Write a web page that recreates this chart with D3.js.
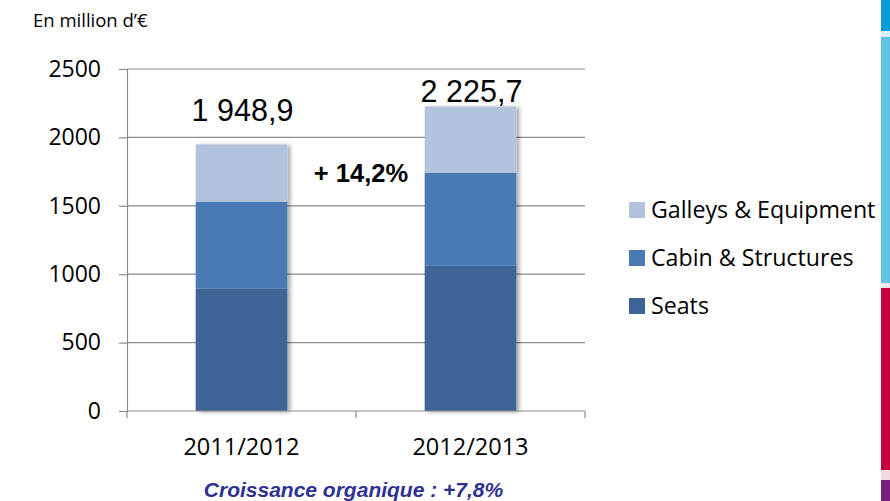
<!DOCTYPE html>
<html>
<head>
<meta charset="utf-8">
<script src="https://cdn.jsdelivr.net/npm/d3@7"></script>
<style>
  body { margin: 0; background: #fff; }
  svg { display: block; }
</style>
</head>
<body>
<svg id="chart" width="890" height="501"></svg>
<script>
// Revenue by business segment, in million euros
const categories = ["2011/2012", "2012/2013"];
const seriesNames = ["Seats", "Cabin & Structures", "Galleys & Equipment"];
const seats = [895, 1062];
const cabin = [635, 680];
const galleys = [418.9, 483.7];
const totalLabels = ["1 948,9", "2 225,7"];
const yTicks = [0, 500, 1000, 1500, 2000, 2500];
const colors = ["#3C6595", "#4A7AB3", "#B3C3DE"];

const svg = d3.select("#chart");
const margin = { left: 127, right: 305, top: 69, bottom: 90 };
const W = 890, H = 501;
const plotW = W - margin.left - margin.right;
const plotH = H - margin.top - margin.bottom;
const sans = "'Open Sans', sans-serif";
const arial = "'Liberation Sans', Arial, sans-serif";

const rows = categories.map((c, i) => ({
  cat: c, "Seats": seats[i], "Cabin & Structures": cabin[i], "Galleys & Equipment": galleys[i]
}));
const stacked = d3.stack().keys(seriesNames)(rows);

const x = d3.scaleBand().domain(categories).range([margin.left, margin.left + plotW]).paddingInner(0.6).paddingOuter(0.3);
const y = d3.scaleLinear().domain([0, 2500]).range([margin.top + plotH, margin.top]);

const defs = svg.append("defs");
const f = defs.append("filter").attr("id", "shadow").attr("x", "-20%").attr("y", "-10%").attr("width", "140%").attr("height", "120%");
f.append("feDropShadow").attr("dx", 3).attr("dy", 1).attr("stdDeviation", 2).attr("flood-color", "#000").attr("flood-opacity", 0.35);

// Gridlines
svg.append("g").selectAll("line").data(yTicks.filter(d => d > 0)).join("line")
  .attr("x1", margin.left).attr("x2", margin.left + plotW)
  .attr("y1", d => y(d)).attr("y2", d => y(d))
  .attr("stroke", "#8c8c8c").attr("stroke-width", 1.2);

// Y axis
const yAxis = svg.append("g").attr("transform", `translate(${margin.left},0)`)
  .call(d3.axisLeft(y).tickValues(yTicks).tickSize(8).tickPadding(18).tickFormat(d3.format("d")));
yAxis.select(".domain").attr("stroke", "#8c8c8c").attr("stroke-width", 1.2);
yAxis.selectAll(".tick line").attr("stroke", "#8c8c8c").attr("stroke-width", 1.2);
yAxis.selectAll("text").attr("font-family", sans).attr("font-size", 23).attr("fill", "#000");

// Bars
const barG = svg.append("g").attr("filter", "url(#shadow)");
stacked.forEach((layer, k) => {
  barG.selectAll(null).data(layer).join("rect")
    .attr("x", (d, i) => x(categories[i]))
    .attr("width", x.bandwidth())
    .attr("y", d => y(d[1]))
    .attr("height", d => y(d[0]) - y(d[1]))
    .attr("fill", colors[k]);
});

// X axis
const baseY = y(0);
svg.append("line").attr("x1", margin.left).attr("x2", margin.left + plotW)
  .attr("y1", baseY).attr("y2", baseY).attr("stroke", "#8c8c8c").attr("stroke-width", 1.2);
const xTicks = [margin.left, margin.left + plotW / 2, margin.left + plotW];
svg.append("g").selectAll("line").data(xTicks).join("line")
  .attr("x1", d => d).attr("x2", d => d).attr("y1", baseY).attr("y2", baseY + 7)
  .attr("stroke", "#8c8c8c").attr("stroke-width", 1.2);
svg.append("g").selectAll("text").data(categories).join("text")
  .attr("x", d => x(d) + x.bandwidth() / 2).attr("y", 455)
  .attr("text-anchor", "middle").attr("font-family", sans).attr("font-size", 23.5)
  .text(d => d);

// Totals above bars
const totals = categories.map((c, i) => seats[i] + cabin[i] + galleys[i]);
svg.append("g").selectAll("text").data(categories).join("text")
  .attr("x", d => x(d) + x.bandwidth() / 2 + 1)
  .attr("y", (d, i) => y(totals[i]) - (i === 0 ? 23 : 5))
  .attr("text-anchor", "middle").attr("font-family", arial).attr("font-size", 30.5)
  .text((d, i) => totalLabels[i]);

// Growth label
svg.append("text").attr("x", 361).attr("y", 181.5)
  .attr("text-anchor", "middle").attr("font-family", arial)
  .attr("font-weight", "bold").attr("font-size", 25.5).text("+ 14,2%");

// Unit label
svg.append("text").attr("x", 33).attr("y", 26.5)
  .attr("font-family", sans).attr("font-size", 18.5).text("En million d’€");

// Organic growth note
svg.append("text").attr("x", 353.5).attr("y", 497)
  .attr("text-anchor", "middle").attr("font-family", arial)
  .attr("font-weight", "bold").attr("font-style", "italic").attr("font-size", 21)
  .attr("fill", "#2E3192").text("Croissance organique : +7,8%");

// Legend
const legendItems = seriesNames.slice().reverse();
const legendColors = colors.slice().reverse();
const lg = svg.append("g").selectAll("g").data(legendItems).join("g")
  .attr("transform", (d, i) => `translate(629, ${210 + i * 48})`);
lg.append("rect").attr("x", 0).attr("y", -8).attr("width", 16).attr("height", 16)
  .attr("fill", (d, i) => legendColors[i]);
lg.append("text").attr("x", 22).attr("y", 8).attr("font-family", sans)
  .attr("font-size", 23.2).text(d => d);

// Decorative colour strip on the right edge
const strip = [
  { y0: 0, y1: 31, c: "#0A9AD6" },
  { y0: 31, y1: 37, c: "#D8EEF6" },
  { y0: 37, y1: 283, c: "#62C0E3" },
  { y0: 283, y1: 288, c: "#F2E6EA" },
  { y0: 288, y1: 470, c: "#C6003F" },
  { y0: 470, y1: 480, c: "#F4D7E0" },
  { y0: 480, y1: 501, c: "#7B1F7E" }
];
svg.append("g").selectAll("rect").data(strip).join("rect")
  .attr("x", 881).attr("width", 9).attr("y", d => d.y0).attr("height", d => d.y1 - d.y0)
  .attr("fill", d => d.c);
</script>
</body>
</html>
